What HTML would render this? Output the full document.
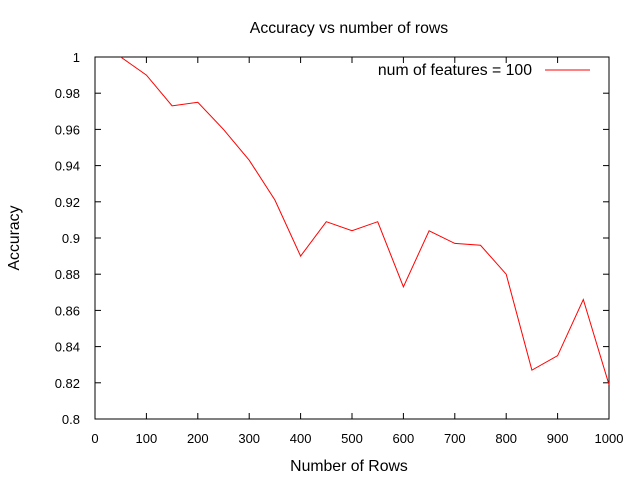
<!DOCTYPE html>
<html><head><meta charset="utf-8"><style>
body{margin:0;background:#fff}
svg{display:block;font-family:"Liberation Sans",sans-serif;font-size:13px}
.big{font-size:15.8px}
</style></head><body>
<svg id="chart" width="640" height="480"></svg>
<script>
const xVals=[50,100,150,200,250,300,350,400,450,500,550,600,650,700,750,800,850,900,950,1000];
const accuracy=[1.0,0.99,0.973,0.975,0.96,0.943,0.921,0.89,0.909,0.904,0.909,0.873,0.904,0.897,0.896,0.88,0.827,0.835,0.866,0.819];
const xTicks=[0,100,200,300,400,500,600,700,800,900,1000];
const yTicks=[0.8,0.82,0.84,0.86,0.88,0.9,0.92,0.94,0.96,0.98,1];
const L=95,R=609,T=57,B=419;
const sx=v=>L+(v-0)/(1000-0)*(R-L);
const sy=v=>B-(v-0.8)/(1.0-0.8)*(B-T);
const svg=document.getElementById('chart');
const NS='http://www.w3.org/2000/svg';
function mk(tag,attrs,parent){const e=document.createElementNS(NS,tag);for(const k in attrs)e.setAttribute(k,attrs[k]);(parent||svg).appendChild(e);return e;}
let t;
t=mk('text',{x:349,y:33,'text-anchor':'middle',class:'big'});t.textContent='Accuracy vs number of rows';


t=mk('text',{x:349,y:471,'text-anchor':'middle',class:'big'});t.textContent='Number of Rows';


t=mk('text',{x:19,y:238,'text-anchor':'middle',class:'big',transform:'rotate(-90 19 238)'});t.textContent='Accuracy';


xTicks.forEach(v=>{const x=sx(v);
 mk('line',{x1:x,y1:B,x2:x,y2:B-6,stroke:'#000'});mk('line',{x1:x,y1:T,x2:x,y2:T+6,stroke:'#000'});
 const e=mk('text',{x:x,y:443,'text-anchor':'middle'});e.textContent=v;
 
 });
yTicks.forEach(v=>{const y=sy(v);
 mk('line',{x1:L,y1:y,x2:L+6,y2:y,stroke:'#000'});mk('line',{x1:R,y1:y,x2:R-6,y2:y,stroke:'#000'});
 const e=mk('text',{x:80,y:y+5,'text-anchor':'end'});e.textContent=v;
 
 });
const frame=mk('rect',{x:L,y:T,width:R-L,height:B-T,fill:'none',stroke:'#000'});


const pl=mk('polyline',{points:xVals.map((v,i)=>sx(v)+','+sy(accuracy[i])).join(' '),fill:'none',stroke:'#f00','stroke-width':1});


t=mk('text',{x:532,y:75,'text-anchor':'end',class:'big'});t.textContent='num of features = 100';


const ll=mk('line',{x1:545,y1:70,x2:590,y2:70,stroke:'#f00'});


</script>
</body></html>
